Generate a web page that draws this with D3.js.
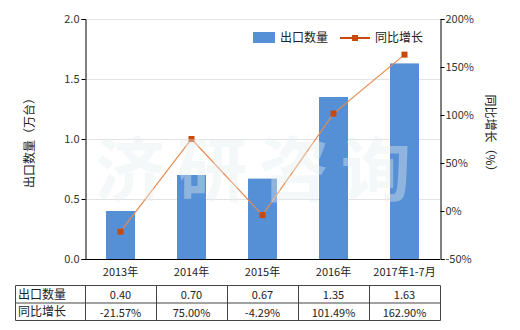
<!DOCTYPE html>
<html><head><meta charset="utf-8">
<script src="https://cdn.jsdelivr.net/npm/d3@7/dist/d3.min.js"></script>
<style>body{margin:0;background:#fff}svg{display:block}</style>
</head><body><svg id="c" width="520" height="330"></svg>
<script>
const categories = ["2013年","2014年","2015年","2016年","2017年1-7月"];
const exportQty = [0.40,0.70,0.67,1.35,1.63];
const growth = [-21.57,75.00,-4.29,101.49,162.90];
const leftTicks = [0,0.5,1.0,1.5,2.0];
const rightTicks = [-50,0,50,100,150,200];
const seriesNames = ["出口数量","同比增长"];

const font = "'Noto Sans CJK SC','Microsoft YaHei',sans-serif";
const svg = d3.select("#c").style("font-family", font);
const L=85, R=440, T=19, B=259;
const x = d3.scaleBand().domain(categories).range([L,R]);
const yL = d3.scaleLinear().domain([0,2]).range([B,T]);
const yR = d3.scaleLinear().domain([-50,200]).range([B,T]);

// grid
svg.append("g").selectAll("line").data(leftTicks.slice(1)).join("line")
  .attr("x1",L).attr("x2",R).attr("y1",d=>yL(d)+0.5).attr("y2",d=>yL(d)+0.5)
  .attr("stroke","#e3e3e3").attr("stroke-width",1);

// bars
const bw = 29;
svg.append("g").selectAll("rect").data(exportQty).join("rect")
  .attr("x",(d,i)=>x(categories[i])+x.bandwidth()/2-bw/2)
  .attr("width",bw).attr("y",d=>yL(d)).attr("height",d=>B-yL(d))
  .attr("fill","#5590d6");

// axes
const axL = d3.axisLeft(yL).tickValues(leftTicks).tickFormat(d3.format(".1f")).tickSize(4).tickPadding(2);
const gL = svg.append("g").attr("transform",`translate(${L+0.5},0)`).call(axL);
const axR = d3.axisRight(yR).tickValues(rightTicks).tickFormat(d=>d+"%").tickSize(4).tickPadding(1);
const gR = svg.append("g").attr("transform",`translate(${R+0.5},0)`).call(axR);
[gL,gR].forEach(g=>{
  g.selectAll("text").attr("font-size",11).attr("fill","#333").attr("font-family",font);
  g.selectAll("line,path").attr("stroke","#000");
});
const axB = d3.axisBottom(x).tickSize(0).tickPadding(9);
const gB = svg.append("g").attr("transform",`translate(0,${B+0.5})`).call(axB);
gB.selectAll("text").attr("font-size",11).attr("fill","#222").attr("font-family",font);
gB.select("path").attr("stroke","#000").attr("d",`M${L},0H${R}`);

// line
const cx = i=>x(categories[i])+x.bandwidth()/2;
const line = d3.line().x((d,i)=>cx(i)).y(d=>yR(d));
svg.append("path").datum(growth).attr("d",line).attr("fill","none")
  .attr("stroke","#e88a4e").attr("stroke-width",1.2);
svg.append("g").selectAll("rect").data(growth).join("rect")
  .attr("x",(d,i)=>cx(i)-3).attr("y",d=>yR(d)-3).attr("width",6).attr("height",6)
  .attr("fill","#c8490c");

// axis titles
svg.append("text").attr("transform","translate(34,140) rotate(-90)").attr("text-anchor","middle")
  .attr("font-size",12).attr("fill","#222").text("出口数量（万台）");
svg.append("text").attr("transform","translate(486,136) rotate(90)").attr("text-anchor","middle")
  .attr("font-size",12).attr("fill","#222").text("同比增长（%）");

// legend
const lg = svg.append("g").attr("font-size",12).attr("fill","#222");
lg.append("rect").attr("x",253).attr("y",32).attr("width",22).attr("height",11).attr("fill","#5590d6");
lg.append("text").attr("x",280).attr("y",42).text(seriesNames[0]);
lg.append("line").attr("x1",340).attr("x2",370).attr("y1",38).attr("y2",38).attr("stroke","#c8490c").attr("stroke-width",2);
lg.append("rect").attr("x",352).attr("y",35).attr("width",6).attr("height",6).attr("fill","#c8490c");
lg.append("text").attr("x",375).attr("y",42).text(seriesNames[1]);

// table
const tL=15.5, tT=285.5, rh=17.5;
const tg = svg.append("g");
const colX = [tL, ...categories.map(c=>x(c)+0.5), R+0.5];
const tb = tg.append("g").attr("stroke","#444").attr("stroke-width",1);
[0,1,2].forEach(r=>tb.append("line").attr("x1",tL).attr("x2",R+0.5).attr("y1",tT+r*rh).attr("y2",tT+r*rh));
colX.forEach(cxv=>tb.append("line").attr("x1",cxv).attr("x2",cxv).attr("y1",tT).attr("y2",tT+2*rh));
const rows = [exportQty.map(d=>d.toFixed(2)), growth.map(d=>d.toFixed(2)+"%")];
rows.forEach((row,r)=>{
  tg.append("text").attr("x",18).attr("y",tT+r*rh+13).attr("font-size",12).attr("fill","#222").text(seriesNames[r]);
  row.forEach((v,i)=>tg.append("text").attr("x",cx(i)).attr("y",tT+r*rh+13.5)
    .attr("text-anchor","middle").attr("font-size",11).attr("fill","#222").text(v));
});

// watermark
svg.append("text").attr("x",95).attr("y",196).attr("font-size",70).attr("font-weight","bold")
  .attr("letter-spacing",12).attr("fill","#e6eeee").attr("opacity",0.4).text("济研咨询");
</script></body></html>
